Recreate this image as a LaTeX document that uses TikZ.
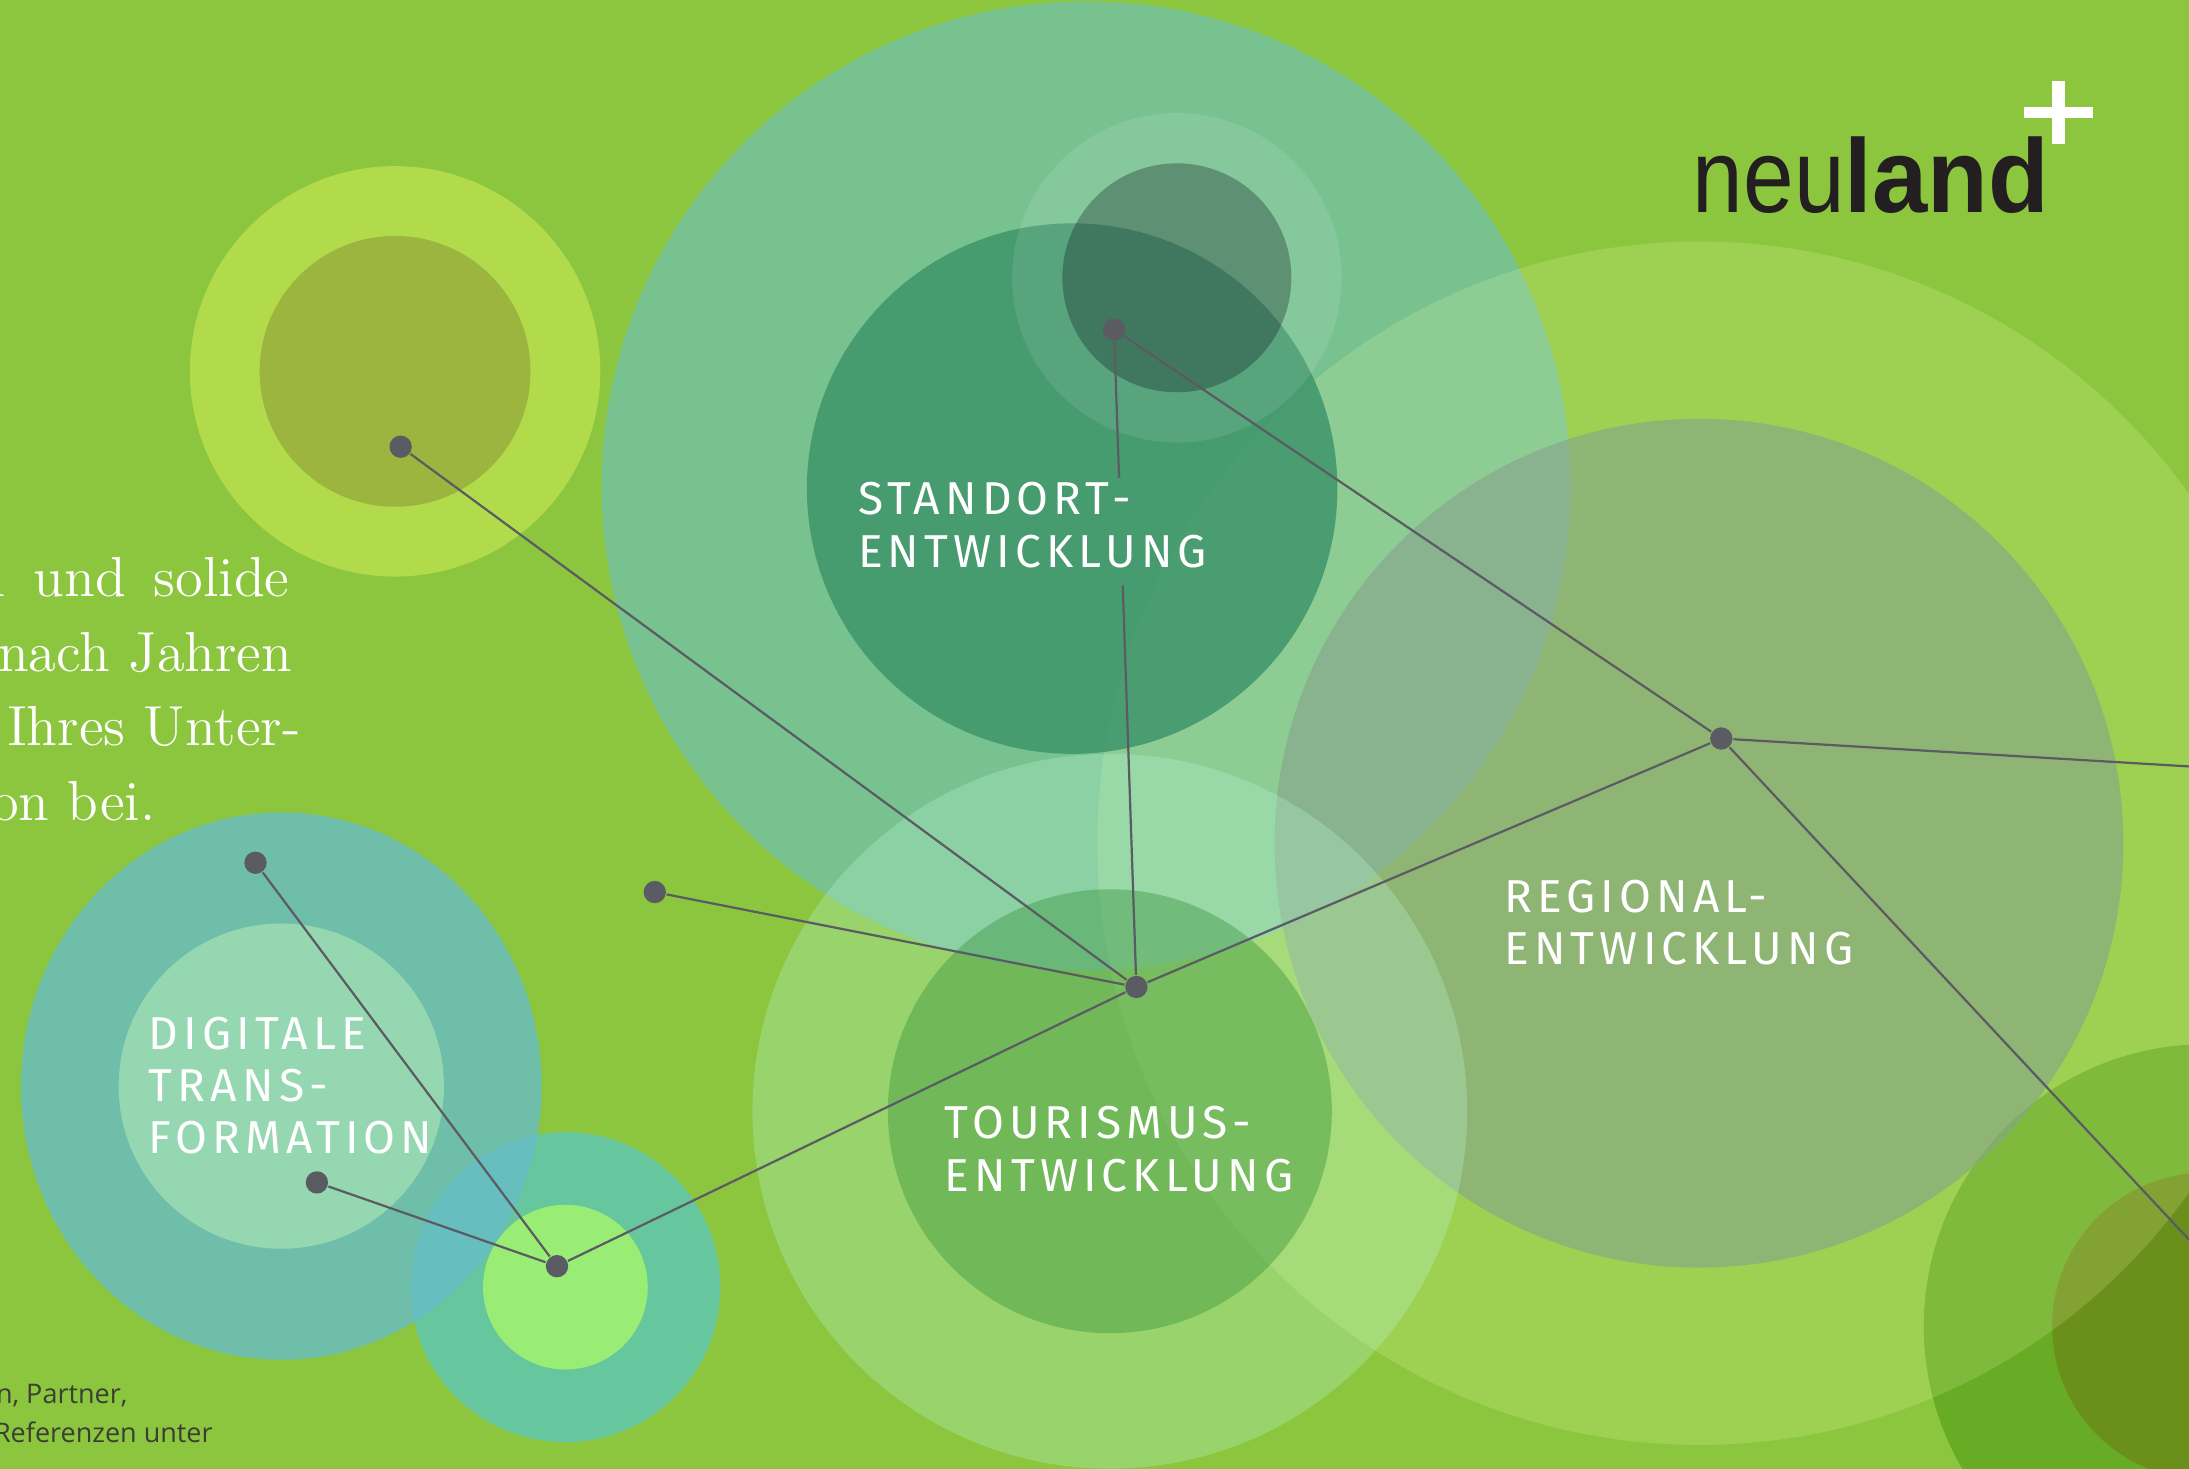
\documentclass[tikz,border=0pt]{standalone}
\usepackage{fontspec}
\usepackage{tikz}
\usetikzlibrary{positioning}
\newfontfamily\labelfont[LetterSpace=11]{Fira Sans}
\newfontfamily\notefont{Open Sans}
\newfontfamily\logothin[FakeStretch=0.87]{Liberation Sans}
\newfontfamily\logobold[FakeStretch=0.95]{Liberation Sans}
\definecolor{bggreen}{HTML}{8CC63F}
\definecolor{limeout}{HTML}{B2DB4C}
\definecolor{limein}{HTML}{9BB53F}
\definecolor{mossout}{HTML}{68AB24}
\definecolor{mossin}{HTML}{6A8F1B}
\definecolor{bigteal}{HTML}{78C290}
\definecolor{glow}{RGB}{240,255,170}
\definecolor{standort}{RGB}{62,149,106}
\definecolor{kern}{RGB}{12,28,31}
\definecolor{region}{RGB}{133,163,139}
\definecolor{tourout}{RGB}{183,245,211}
\definecolor{tourin}{RGB}{62,149,66}
\definecolor{smallout}{HTML}{66C69D}
\definecolor{smallin}{HTML}{9AED74}
\definecolor{digiout}{RGB}{104,189,201}
\definecolor{digiin}{HTML}{94D7B0}
\definecolor{netgray}{HTML}{5B5B63}
\definecolor{logoink}{HTML}{231F20}
\definecolor{notegray}{HTML}{3A3F33}
\begin{document}
\begin{tikzpicture}[x=0.01cm,y=-0.01cm,
    dot/.style={circle,fill=netgray,inner sep=0pt,minimum size=0.16cm},
    link/.style={netgray,line width=0.45pt},
    area/.style={text=white,align=left,inner sep=0pt,anchor=north west,font=\labelfont\fontsize{9.4}{10.6}\selectfont},
    body/.style={text=white,inner sep=0pt,anchor=base east,font=\fontsize{11.5}{15}\selectfont},
    note/.style={text=notegray,inner sep=0pt,anchor=base east,font=\notefont\fontsize{5.5}{8}\selectfont}]
\useasboundingbox(0,0)rectangle(1568,1052);
\clip(0,0)rectangle(1568,1052);
\fill[bggreen](0,0)rectangle(1568,1052);
% circles
\fill[limeout](283,266)circle(147);
\fill[limein](283,266)circle(97);
\fill[mossout](1580,950)circle(202);
\fill[mossin](1580,950)circle(110);
\fill[bigteal](778,348)circle(347);
\fill[glow,fill opacity=0.18](1217,604)circle(431);
\fill[standort,fill opacity=0.85](768,350)circle(190);
\fill[white,fill opacity=0.1](843,199)circle(118);
\fill[kern,fill opacity=0.32](843,199)circle(82);
\fill[region,fill opacity=0.6](1217,604)circle(304);
\fill[tourout,fill opacity=0.3](795,796)circle(256);
\fill[tourin,fill opacity=0.43](795,796)circle(159);
\fill[smallout](405,922)circle(111);
\fill[smallin](405,922)circle(59);
\fill[digiout,fill opacity=0.78](201.5,778)ellipse(186.5 and 196);
\fill[digiin](201.5,778)circle(116.5);
% texts
\node[area](standtxt)at(614,345){STANDORT-\\ENTWICKLUNG};
\node[area](regiotxt)at(1077,630){REGIONAL-\\ENTWICKLUNG};
\node[area](tourtxt)at(676,792){TOURISMUS-\\ENTWICKLUNG};
\node[area](digitxt)at(106,728){DIGITALE\\TRANS-\\FORMATION};
\node[body](t1)at(208,427){n\enspace und\enspace solide};
\node[body](t2)at(210,481){nach Jahren};
\node[body](t3)at(216,534){Ihres Unter-};
\node[body](t4)at(112,588){on bei.};
\node[note](n1)at(92,1005){n, Partner,};
\node[note](n2)at(153,1033){Referenzen unter};
\node[anchor=base west,inner sep=0pt,text=logoink](logo)at(1212,152){{\logothin\fontsize{21.3}{22}\selectfont neu}{\logobold\fontsize{21.3}{22}\selectfont\bfseries land}};
\fill[white](1450,76.5)rectangle(1499,84.5);
\fill[white](1470,58)rectangle(1479,103);
% network
\node[dot](p1)at(287,320){};
\node[dot](p2)at(798,236){};
\node[dot](p3)at(469,639){};
\node[dot](p4)at(814,707){};
\node[dot](p5)at(1233,529){};
\node[dot](p6)at(183,618){};
\node[dot](p7)at(227,847){};
\node[dot](p8)at(399,907){};
\coordinate(e1)at(1568,549);
\coordinate(e2)at(1568,888);
\path(p2)--(p4)coordinate[pos=0.215](s1)coordinate[pos=0.385](s2);
\draw[link](p2)--(s1) (s2)--(p4);
\draw[link](p1)--(p4);
\draw[link](p3)--(p4);
\draw[link](p4)--(p5);
\draw[link](p4)--(p8);
\draw[link](p2)--(p5);
\draw[link](p5)--(e1);
\draw[link](p5)--(e2);
\draw[link](p6)--(p8);
\draw[link](p7)--(p8);
\end{tikzpicture}
\end{document}
